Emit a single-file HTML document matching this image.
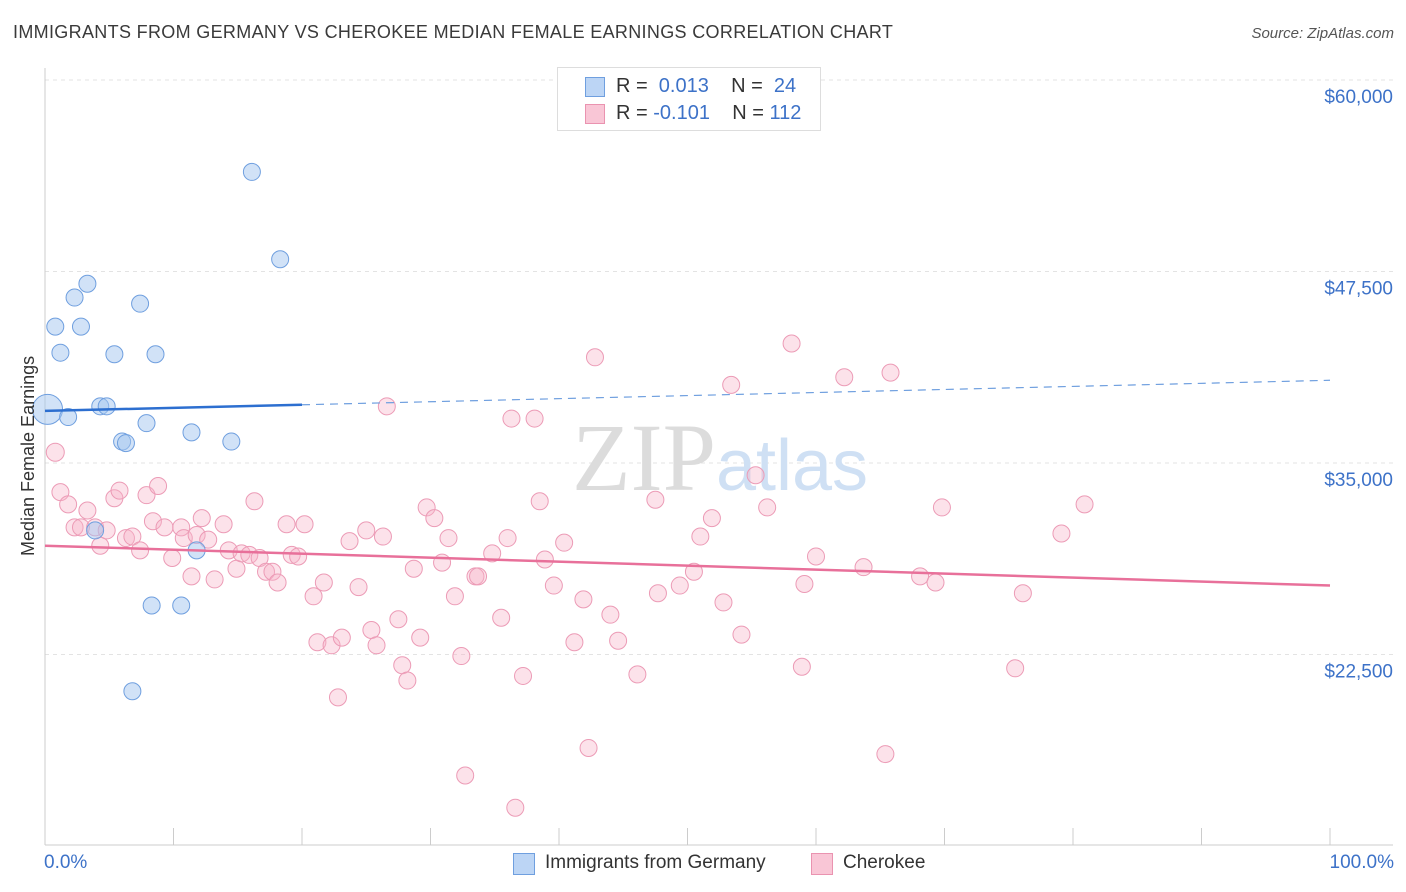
<!DOCTYPE html>
<html><head><meta charset="utf-8">
<style>
body{margin:0;background:#fff;font-family:"Liberation Sans",sans-serif;}
#wrap{position:relative;width:1406px;height:892px;overflow:hidden;}
.t{position:absolute;white-space:nowrap;}
</style></head>
<body>
<div id="wrap">
<div class="t" style="left:13px;top:22px;font-size:18px;letter-spacing:0.33px;color:#3a3a3a;">IMMIGRANTS FROM GERMANY VS CHEROKEE MEDIAN FEMALE EARNINGS CORRELATION CHART</div>
<div class="t" style="right:12px;top:25px;font-size:15px;color:#555;font-style:italic;">Source: ZipAtlas.com</div>
<svg id="svg" width="1406" height="892" style="position:absolute;left:0;top:0"></svg>
</div>
<script>
const xTickCount = 10;
const yTicks = [22500, 35000, 47500, 60000];
const yTickLabels = ["$22,500", "$35,000", "$47,500", "$60,000"];
const blueX = [0.2,0.8,1.2,1.8,2.3,2.8,3.3,3.9,4.3,4.8,5.4,6.0,6.3,7.4,7.9,8.3,8.6,10.6,11.4,11.8,14.5,16.1,18.3,6.8];
const blueY = [38500,43900,42200,38000,45800,43900,46700,30600,38700,38700,42100,36400,36300,45400,37600,25700,42100,25700,37000,29300,36400,54000,48300,20100];
const pinkX = [0.8,1.2,1.8,2.3,2.8,3.3,3.9,4.3,4.8,5.4,5.8,6.3,6.8,7.4,7.9,8.4,8.8,9.3,9.9,10.6,10.8,11.4,11.8,12.2,12.7,13.2,13.9,14.3,14.9,15.3,15.9,16.3,16.7,17.2,17.7,18.1,18.8,19.2,19.7,20.2,20.9,21.2,21.7,22.3,22.8,23.1,23.7,24.4,25.0,25.4,25.8,26.3,26.6,27.5,27.8,28.2,28.7,29.2,29.7,30.3,30.9,31.4,31.9,32.4,32.7,33.5,33.7,34.8,35.5,36.0,36.3,36.6,37.2,38.1,38.5,38.9,39.6,40.4,41.2,41.9,42.3,42.8,44.0,44.6,46.1,47.5,47.7,49.4,50.5,51.0,51.9,52.8,53.4,54.2,55.3,56.2,58.1,58.9,59.1,60.0,62.2,63.7,65.4,65.8,68.1,69.3,69.8,75.5,76.1,79.1,80.9];
const pinkY = [35700,33100,32300,30800,30800,31900,30800,29600,30600,32700,33200,30100,30200,29300,32900,31200,33500,30800,28800,30800,30100,27600,30300,31400,30000,27400,31000,29300,28100,29100,29000,32500,28800,27900,27900,27200,31000,29000,28900,31000,26300,23300,27200,23100,19700,23600,29900,26900,30600,24100,23100,30200,38700,24800,21800,20800,28100,23600,32100,31400,28500,30100,26300,22400,14600,27600,27600,29100,24900,30100,37900,12500,21100,37900,32500,28700,27000,29800,23300,26100,16400,41900,25100,23400,21200,32600,26500,27000,27900,30200,31400,25900,40100,23800,34200,32100,42800,21700,27100,28900,40600,28200,16000,40900,27600,27200,32100,21600,26500,30400,32300];
const blueTrend = [38400, 40400];
const pinkTrend = [29600, 27000];

const svg = document.getElementById('svg');
const NS = 'http://www.w3.org/2000/svg';
const X0=45, X1=1330, YTOP=80, PXPER=191.5/12500;
const xs = p => X0 + (X1-X0)*p/100;
const ys = v => YTOP + (60000-v)*PXPER;
function mk(tag, attrs, parent){const e=document.createElementNS(NS,tag);for(const k in attrs)e.setAttribute(k,attrs[k]);(parent||svg).appendChild(e);return e;}

yTicks.forEach((v,i)=>{
  const g = mk('line',{x1:X0,x2:1393,y1:ys(v),y2:ys(v),stroke:'#e3e3e3','stroke-dasharray':'4,4'});
  
  
  const t = mk('text',{x:1393,y:ys(v)+23,'text-anchor':'end','font-size':19,fill:'#3d72c8','font-family':'Liberation Sans, sans-serif'});
  t.textContent = yTickLabels[i];
  
  
});
const ya = mk('line',{x1:X0,x2:X0,y1:68,y2:845,stroke:'#ccc'});


const xa = mk('line',{x1:X0,x2:1393,y1:845,y2:845,stroke:'#ccc'});


for(let i=0;i<=xTickCount;i++){
  const tk = mk('line',{x1:xs(i*100/xTickCount),x2:xs(i*100/xTickCount),y1:828,y2:845,stroke:'#ccc'});
  
  
}
const wm = mk('text',{x:720,y:490,'text-anchor':'middle','font-size':96,fill:'#e2e2e2','font-family':'Liberation Serif, serif'});


wm.innerHTML = '<tspan fill="#dcdcdc">ZIP</tspan><tspan fill="#cfe0f4" font-family="Liberation Sans, sans-serif" font-size="72">atlas</tspan>';

pinkX.forEach((p,i)=>{
  const c = mk('circle',{cx:xs(p),cy:ys(pinkY[i]),r:i===0?9:8.5,fill:'rgba(247,178,200,0.38)',stroke:'#ec9bb6','stroke-width':1});
  
  
});
blueX.forEach((p,i)=>{
  const c = mk('circle',{cx:xs(p),cy:ys(blueY[i]),r:i===0?15:8.5,fill:'rgba(164,198,240,0.5)',stroke:'#6f9fdf','stroke-width':1});
  
  
});
const bv = p => blueTrend[0]+(blueTrend[1]-blueTrend[0])*p/100;
const bt1 = mk('line',{x1:xs(0),y1:ys(bv(0)),x2:xs(20),y2:ys(bv(20)),stroke:'#2d6fd0','stroke-width':2.5});


const bt2 = mk('line',{x1:xs(20),y1:ys(bv(20)),x2:xs(100),y2:ys(bv(100)),stroke:'#6f9fdf','stroke-width':1.2,'stroke-dasharray':'8,6'});


const pt = mk('line',{x1:xs(0),y1:ys(pinkTrend[0]),x2:xs(100),y2:ys(pinkTrend[1]),stroke:'#e8709a','stroke-width':2.5});


</script>

<div class="t" style="left:-72px;top:445px;font-size:18px;color:#333;transform:rotate(-90deg);width:200px;text-align:center;line-height:22px;">Median Female Earnings</div>
<div class="t" style="left:44px;top:852px;font-size:19px;color:#3d72c8;">0.0%</div>
<div class="t" style="right:12px;top:852px;font-size:19px;color:#3d72c8;">100.0%</div>

<div style="position:absolute;left:557px;top:67px;width:262px;height:62px;border:1px solid #ddd;background:#fff;font-size:20px;">
  <div style="position:absolute;left:27px;top:9px;width:18px;height:18px;background:#bcd5f5;border:1px solid #6f9fdf;"></div>
  <div class="t" style="left:58px;top:7px;color:#333;">R = <span style="color:#3d72c8">&nbsp;0.013</span>&nbsp;&nbsp;&nbsp; N = &nbsp;<span style="color:#3d72c8">24</span></div>
  <div style="position:absolute;left:27px;top:36px;width:18px;height:18px;background:#f9c6d6;border:1px solid #ea93b0;"></div>
  <div class="t" style="left:58px;top:34px;color:#333;">R = <span style="color:#3d72c8">-0.101</span>&nbsp;&nbsp;&nbsp; N = <span style="color:#3d72c8">112</span></div>
</div>

<div style="position:absolute;left:513px;top:852px;font-size:19px;color:#333;">
  <div style="position:absolute;left:0;top:1px;width:20px;height:20px;background:#bcd5f5;border:1px solid #6f9fdf;"></div>
  <div class="t" style="left:32px;top:0;">Immigrants from Germany</div>
  <div style="position:absolute;left:298px;top:1px;width:20px;height:20px;background:#f9c6d6;border:1px solid #ea93b0;"></div>
  <div class="t" style="left:330px;top:0;">Cherokee</div>
</div>
</body></html>
